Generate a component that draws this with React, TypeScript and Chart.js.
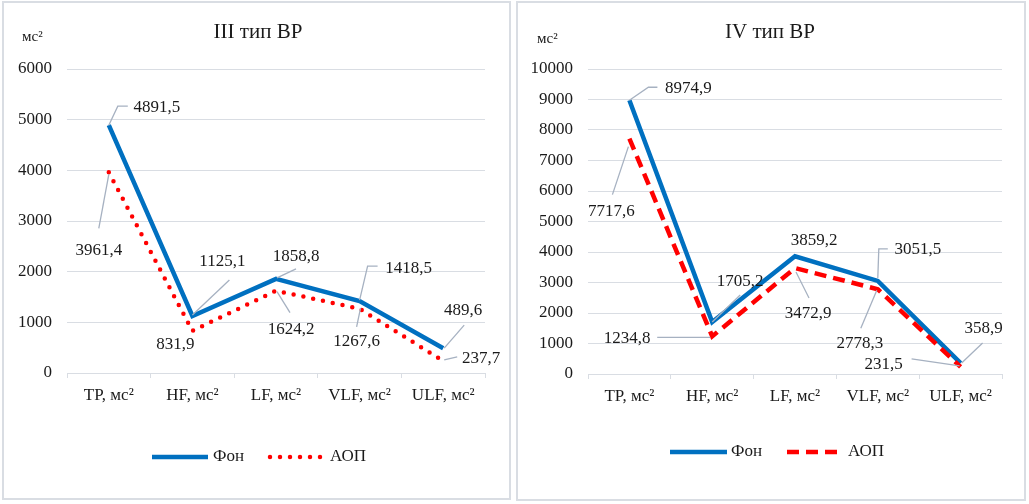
import { useEffect, useRef } from "react";
import { Chart, registerables } from "chart.js";

Chart.register(...registerables);

// категории и значения (мс²)
const CATEGORIES = ["TP, мс²", "HF, мс²", "LF, мс²", "VLF, мс²", "ULF, мс²"];

const III_FON = [4891.5, 1125.1, 1858.8, 1418.5, 489.6];
const III_AOP = [3961.4, 831.9, 1624.2, 1267.6, 237.7];

const IV_FON = [8974.9, 1705.2, 3859.2, 3051.5, 358.9];
const IV_AOP = [7717.6, 1234.8, 3472.9, 2778.3, 231.5];

const III_MAX = 6000;
const IV_MAX = 10000;
const Y_STEP = 1000;

// смещения подписей данных относительно точки + линии выноски
type LabelPos = { dx: number; dy: number; lead?: number[][] };

const III_FON_POS: LabelPos[] = [
  { dx: 48, dy: -18, lead: [[0, 0], [9, -19], [19, -19]] },
  { dx: 30, dy: -54, lead: [[0, -1], [37, -36]] },
  { dx: 20, dy: -22, lead: [[1, -1], [20, -10]] },
  { dx: 49, dy: -33, lead: [[0, -1], [8, -35], [18, -35]] },
  { dx: 20, dy: -38, lead: [[1, 0], [21, -23]] },
];
const III_AOP_POS: LabelPos[] = [
  { dx: -10, dy: 78, lead: [[0, 2], [-10, 56]] },
  { dx: -17, dy: 14 },
  { dx: 15, dy: 39, lead: [[1, 1], [14, 22]] },
  { dx: -3, dy: 33, lead: [[1, -1], [-3, 18]] },
  { dx: 38, dy: -2, lead: [[1, -1], [14, -4]] },
];
const IV_FON_POS: LabelPos[] = [
  { dx: 59, dy: -12, lead: [[0, 0], [19, -13], [28, -13]] },
  { dx: 28, dy: -40, lead: [[0, 0], [28, -27]] },
  { dx: 19, dy: -16 },
  { dx: 40, dy: -31, lead: [[0, -3], [1, -32], [10, -32]] },
  { dx: 23, dy: -35, lead: [[1, 0], [22, -20]] },
];
const IV_AOP_POS: LabelPos[] = [
  { dx: -18, dy: 73, lead: [[-1, 8], [-17, 56]] },
  { dx: -85, dy: 2, lead: [[-55, 1], [-2, 1]] },
  { dx: 13, dy: 45, lead: [[1, 4], [14, 30]] },
  { dx: -18, dy: 54, lead: [[-1, 1], [-17, 39]] },
  { dx: -77, dy: -2, lead: [[-49, -8], [-1, -1]] },
];

const FONT = "'Liberation Serif', 'Times New Roman', serif";
const TEXT = "#1a1a1a";
const GRID = "#d9dde3";
const LEADER = "#a6b1c1";
const BLUE = "#0070c0";
const RED = "#ff0000";

const fmt = (v: number) => v.toFixed(1).replace(".", ",");

const extrasPlugin = {
  id: "extras",
  afterDatasetsDraw(chart: any, _args: any, opts: any) {
    const ctx = chart.ctx;
    ctx.save();
    // подписи данных
    chart.data.datasets.forEach((ds: any, i: number) => {
      const meta = chart.getDatasetMeta(i);
      const positions: LabelPos[] = opts.labels[i];
      meta.data.forEach((pt: any, j: number) => {
        const p = positions[j];
        if (p.lead) {
          ctx.strokeStyle = LEADER;
          ctx.lineWidth = 1.3;
          ctx.setLineDash([]);
          ctx.beginPath();
          p.lead.forEach(([lx, ly], k) => {
            if (k === 0) ctx.moveTo(pt.x + lx, pt.y + ly);
            else ctx.lineTo(pt.x + lx, pt.y + ly);
          });
          ctx.stroke();
        }
        ctx.fillStyle = TEXT;
        ctx.font = `17px ${FONT}`;
        ctx.textAlign = "center";
        ctx.textBaseline = "middle";
        ctx.fillText(fmt(ds.data[j]), pt.x + p.dx, pt.y + p.dy);
      });
    });
    ctx.restore();
  },
  afterDraw(chart: any, _args: any, opts: any) {
    const ctx = chart.ctx;
    ctx.save();
    ctx.fillStyle = TEXT;
    ctx.textBaseline = "middle";
    // заголовок
    ctx.font = `21px ${FONT}`;
    ctx.textAlign = "center";
    ctx.fillText(opts.title, opts.titleX, opts.titleY);
    // единицы оси
    ctx.font = `15px ${FONT}`;
    ctx.textAlign = "left";
    ctx.fillText("мс²", opts.unitX, opts.unitY);
    // легенда
    const lg = opts.legend;
    chart.data.datasets.forEach((ds: any, i: number) => {
      const item = lg.items[i];
      ctx.strokeStyle = ds.borderColor;
      ctx.lineWidth = ds.borderWidth;
      ctx.lineCap = ds.borderCapStyle || "butt";
      ctx.setLineDash(ds.borderDash || []);
      ctx.beginPath();
      ctx.moveTo(item[0], lg.y);
      ctx.lineTo(item[1], lg.y);
      ctx.stroke();
      ctx.setLineDash([]);
      ctx.fillStyle = TEXT;
      ctx.font = `17px ${FONT}`;
      ctx.textAlign = "left";
      ctx.fillText(ds.label, item[2], lg.y);
    });
    ctx.restore();
  },
};

type PanelProps = {
  left: number;
  width: number;
  height: number;
  title: string;
  fon: number[];
  aop: number[];
  aopDash: number[];
  aopCap: string;
  aopWidth: number;
  max: number;
  yWidth: number;
  padRight: number;
  labels: LabelPos[][];
  titleX: number;
  unitX: number;
  unitY: number;
  legend: { y: number; items: number[][] };
};

function Panel(props: PanelProps) {
  const canvasRef = useRef<HTMLCanvasElement | null>(null);

  useEffect(() => {
    if (!canvasRef.current) return;
    const tickFont = { family: FONT, size: 17 };
    const chart = new Chart(canvasRef.current, {
      type: "line",
      data: {
        labels: CATEGORIES,
        datasets: [
          {
            label: "Фон",
            data: props.fon,
            borderColor: BLUE,
            borderWidth: 4.5,
            pointRadius: 0,
            tension: 0,
            order: 1,
          },
          {
            label: "АОП",
            data: props.aop,
            borderColor: RED,
            borderWidth: props.aopWidth,
            borderDash: props.aopDash,
            borderCapStyle: props.aopCap as CanvasLineCap,
            pointRadius: 0,
            tension: 0,
            order: 0,
          },
        ],
      },
      options: {
        responsive: false,
        animation: false,
        layout: { padding: { top: 66, right: props.padRight, bottom: 85, left: 0 } },
        plugins: {
          legend: { display: false },
          tooltip: { enabled: false },
          extras: {
            labels: props.labels,
            title: props.title,
            titleX: props.titleX,
            titleY: 29,
            unitX: props.unitX,
            unitY: props.unitY,
            legend: props.legend,
          },
        } as any,
        scales: {
          x: {
            offset: true,
            grid: {
              display: true,
              drawOnChartArea: false,
              drawTicks: true,
              tickLength: 5,
              color: GRID,
              offset: true,
            },
            border: { display: true, color: GRID },
            ticks: { font: tickFont, color: TEXT, padding: 7, maxRotation: 0 },
            afterFit: (s: any) => {
              s.height = 40;
            },
          },
          y: {
            min: 0,
            max: props.max,
            grid: { color: GRID, drawTicks: false },
            border: { display: false },
            ticks: {
              stepSize: Y_STEP,
              font: tickFont,
              color: TEXT,
              padding: 15,
              callback: (v: any) => String(v),
            },
            afterFit: (s: any) => {
              s.width = props.yWidth;
            },
          },
        },
      },
      plugins: [extrasPlugin],
    });
    return () => chart.destroy();
    // eslint-disable-next-line react-hooks/exhaustive-deps
  }, []);

  return (
    <div
      style={{
        position: "absolute",
        left: props.left,
        top: 1,
        width: props.width + 4,
        height: props.height + 4,
        boxSizing: "border-box",
        border: `2px solid ${GRID}`,
        background: "#fff",
      }}
    >
      <canvas ref={canvasRef} width={props.width} height={props.height} style={{ display: "block" }} />
    </div>
  );
}

export default function App() {
  return (
    <div style={{ position: "fixed", left: 0, top: 0, width: 1029, height: 504, background: "#fff" }}>
      <Panel
        left={2}
        width={505}
        height={495}
        title="III тип ВР"
        fon={III_FON}
        aop={III_AOP}
        aopDash={[0, 10]}
        aopCap="round"
        aopWidth={4.5}
        max={III_MAX}
        yWidth={63}
        padRight={24}
        labels={[III_FON_POS, III_AOP_POS]}
        titleX={254}
        unitX={18}
        unitY={34}
        legend={{ y: 454, items: [[148, 204, 209], [266, 318, 326]] }}
      />
      <Panel
        left={516}
        width={506}
        height={496}
        title="IV тип ВР"
        fon={IV_FON}
        aop={IV_AOP}
        aopDash={[12, 7]}
        aopCap="butt"
        aopWidth={4.5}
        max={IV_MAX}
        yWidth={70}
        padRight={22}
        labels={[IV_FON_POS, IV_AOP_POS]}
        titleX={252}
        unitX={19}
        unitY={36}
        legend={{ y: 449, items: [[152, 209, 213], [269, 322, 330]] }}
      />
    </div>
  );
}
